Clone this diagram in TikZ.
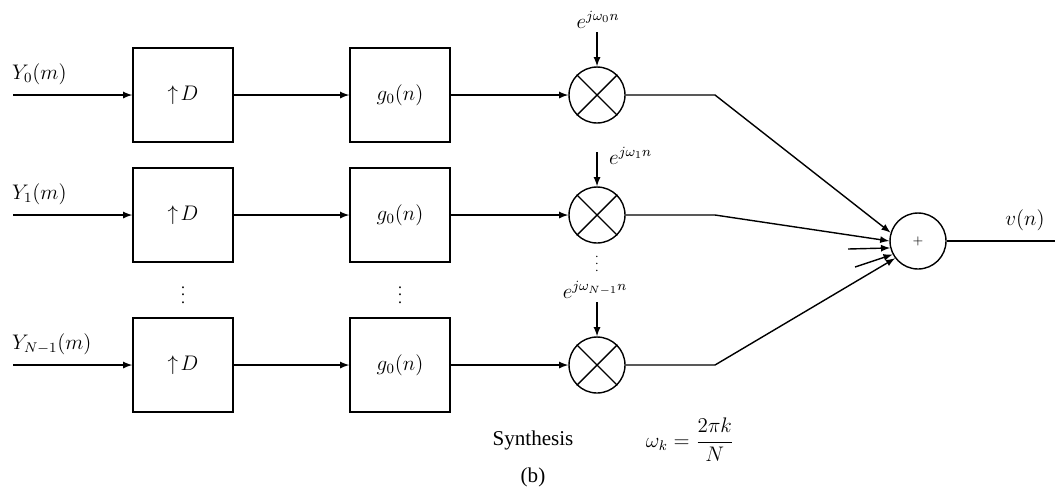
\documentclass[tikz,border=0pt]{standalone}
\usepackage{amsmath}
\usepackage{fontspec}
\setmainfont{Liberation Serif}
\usepackage{tikz}

\begin{document}
\begin{tikzpicture}[
  x=0.02cm, y=-0.02cm,
  every node/.style={font=\large},
  block/.style={draw, rectangle, minimum width=2cm, minimum height=1.88cm,
  line width=0.8pt},
  mixer/.style={draw, circle, minimum size=1.12cm, inner sep=0pt, line width=0.8pt},
  sig/.style={draw, -latex, line width=0.8pt},
  dots/.style={inner sep=0pt, font=\small}
]
\useasboundingbox (0,0) rectangle (1057,491);

\node[mixer] (sum) at (918,241) {\scriptsize $+$};

\foreach \r/\y/\lab in {0/95/Y_0(m), 1/215/Y_1(m), 2/365/Y_{N-1}(m)} {
  \coordinate (in\r) at (13,\y);
  \node[anchor=south west, inner sep=1pt] (ylab\r) at (10,\y-8) {$\lab$};
  \node[block] (up\r) at (183,\y) {$\uparrow\! D$};
  \node[block] (g\r) at (400,\y) {$g_0(n)$};
  \node[mixer] (m\r) at (597,\y) {};
  \coordinate (k\r) at (715,\y);
  \draw[sig] (in\r) -- (up\r);
  \draw[sig] (up\r) -- (g\r);
  \draw[sig] (g\r) -- (m\r);
  \draw[line width=0.8pt] (m\r.north east) -- (m\r.south west)
    (m\r.north west) -- (m\r.south east);
}

% carriers
\node (e0) at (598,20) {$e^{j\omega_0 n}$};
\coordinate (t0) at (597,32);
\draw[sig] (t0) -- (m0);
\node[anchor=west] (e1) at (603,156) {$e^{j\omega_1 n}$};
\coordinate (t1) at (597,152);
\draw[sig] (t1) -- (m1);
\node (e2) at (595,290) {$e^{j\omega_{N-1} n}$};
\coordinate (t2) at (597,302);
\draw[sig] (t2) -- (m2);

% dots
\node[dots] (d1) at (183,290) {$\vdots$};
\node[dots] (d2) at (400,290) {$\vdots$};
\node[dots, font=\scriptsize] (d3) at (597,259) {$\vdots$};

% to the adder
\draw[sig] (m0) -- (k0) -- (sum.163);
\draw[sig] (m1) -- (k1) -- (sum.180);
\draw[sig] (m2) -- (k2) -- (sum.217);
\coordinate (x1) at (848,249);
\coordinate (x2) at (855,267);
\draw[sig] (x1) -- (sum.194);
\draw[sig] (x2) -- (sum.208);

\coordinate (out) at (1055,241);
\draw[line width=0.8pt] (sum) -- (out);
\node (vlab) at (1025,220) {$v(n)$};

\node (syn) at (533,440) {Synthesis};
\node (cap) at (533,477) {(b)};
\node (wk) at (690,440) {$\omega_k = \dfrac{2\pi k}{N}$};
\end{tikzpicture}
\end{document}
